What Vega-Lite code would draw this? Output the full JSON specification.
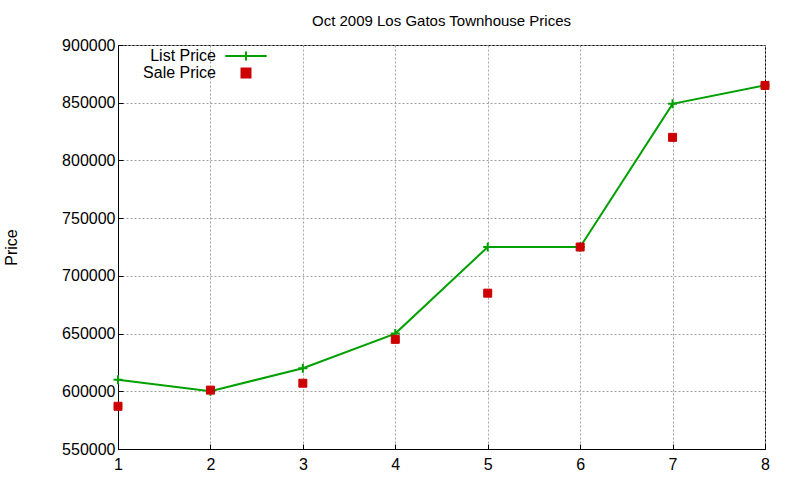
{
  "$schema": "https://vega.github.io/schema/vega-lite/v6.json",
  "description": "Oct 2009 Los Gatos townhouse list vs sale prices, gnuplot style",
  "autosize": "none",
  "width": 647,
  "height": 404,
  "padding": {"left": 118, "top": 45, "right": 35, "bottom": 31},
  "background": "white",
  "title": {
    "text": "Oct 2009 Los Gatos Townhouse Prices",
    "font": "Liberation Sans",
    "fontSize": 15,
    "fontWeight": "normal",
    "color": "black",
    "anchor": "middle",
    "offset": 8
  },
  "config": {
    "view": {"stroke": "black", "strokeWidth": 1},
    "axis": {
      "labelFont": "Liberation Sans",
      "labelFontSize": 16,
      "labelColor": "black",
      "titleFont": "Liberation Sans",
      "titleFontSize": 16,
      "titleFontWeight": "normal",
      "titleColor": "black",
      "domainColor": "black",
      "tickColor": "black",
      "tickSize": -5,
      "gridColor": "#a0a0a0",
      "gridDash": [2, 2],
      "gridOpacity": 1
    }
  },
  "data": {
    "values": [
      {"house": 1, "series": "List Price", "price": 610000},
      {"house": 2, "series": "List Price", "price": 600000},
      {"house": 3, "series": "List Price", "price": 620000},
      {"house": 4, "series": "List Price", "price": 650000},
      {"house": 5, "series": "List Price", "price": 725000},
      {"house": 6, "series": "List Price", "price": 725000},
      {"house": 7, "series": "List Price", "price": 849000},
      {"house": 8, "series": "List Price", "price": 865000},
      {"house": 1, "series": "Sale Price", "price": 587000},
      {"house": 2, "series": "Sale Price", "price": 601000},
      {"house": 3, "series": "Sale Price", "price": 607000},
      {"house": 4, "series": "Sale Price", "price": 645000},
      {"house": 5, "series": "Sale Price", "price": 685000},
      {"house": 6, "series": "Sale Price", "price": 725000},
      {"house": 7, "series": "Sale Price", "price": 820000},
      {"house": 8, "series": "Sale Price", "price": 865000}
    ]
  },
  "encoding": {
    "x": {
      "field": "house",
      "type": "quantitative",
      "title": null,
      "scale": {"domain": [1, 8], "nice": false},
      "axis": {"values": [1, 2, 3, 4, 5, 6, 7, 8], "labelPadding": 12, "labelFlush": false}
    },
    "y": {
      "field": "price",
      "type": "quantitative",
      "title": "Price",
      "scale": {"domain": [550000, 900000], "nice": false, "zero": false},
      "axis": {
        "values": [550000, 600000, 650000, 700000, 750000, 800000, 850000, 900000],
        "format": "d",
        "labelPadding": 8,
        "labelFlush": false,
        "titlePadding": 42
      }
    }
  },
  "layer": [
    {
      "transform": [{"filter": "datum.series === 'List Price'"}],
      "mark": {"type": "line", "color": "#00a000", "strokeWidth": 2}
    },
    {
      "transform": [{"filter": "datum.series === 'List Price'"}],
      "mark": {"type": "point", "shape": "M-1,0H1M0,-1V1", "filled": false, "color": "#00a000", "strokeWidth": 2, "size": 81, "opacity": 1}
    },
    {
      "transform": [{"filter": "datum.series === 'Sale Price'"}],
      "mark": {"type": "point", "filled": true, "size": 64, "strokeWidth": 1, "opacity": 1},
      "encoding": {
        "color": {
          "field": "series",
          "type": "nominal",
          "scale": {"domain": ["List Price", "Sale Price"], "range": ["#00a000", "#cc0000"]},
          "legend": {
            "title": null,
            "orient": "none",
            "legendX": 120,
            "legendY": 3,
            "labelFont": "Liberation Sans",
            "labelFontSize": 16,
            "labelColor": "black",
            "labelAlign": "right",
            "labelOffset": -38,
            "symbolSize": 81,
            "symbolStrokeWidth": 2,
            "rowPadding": -1
          }
        },
        "stroke": {
          "field": "series",
          "type": "nominal",
          "scale": {"domain": ["List Price", "Sale Price"], "range": ["#00a000", "#cc0000"]},
          "legend": {"title": null}
        },
        "shape": {
          "field": "series",
          "type": "nominal",
          "scale": {"domain": ["List Price", "Sale Price"], "range": ["M-4.6,0H4.6M0,-1V1", "square"]},
          "legend": {"title": null}
        }
      }
    }
  ]
}
